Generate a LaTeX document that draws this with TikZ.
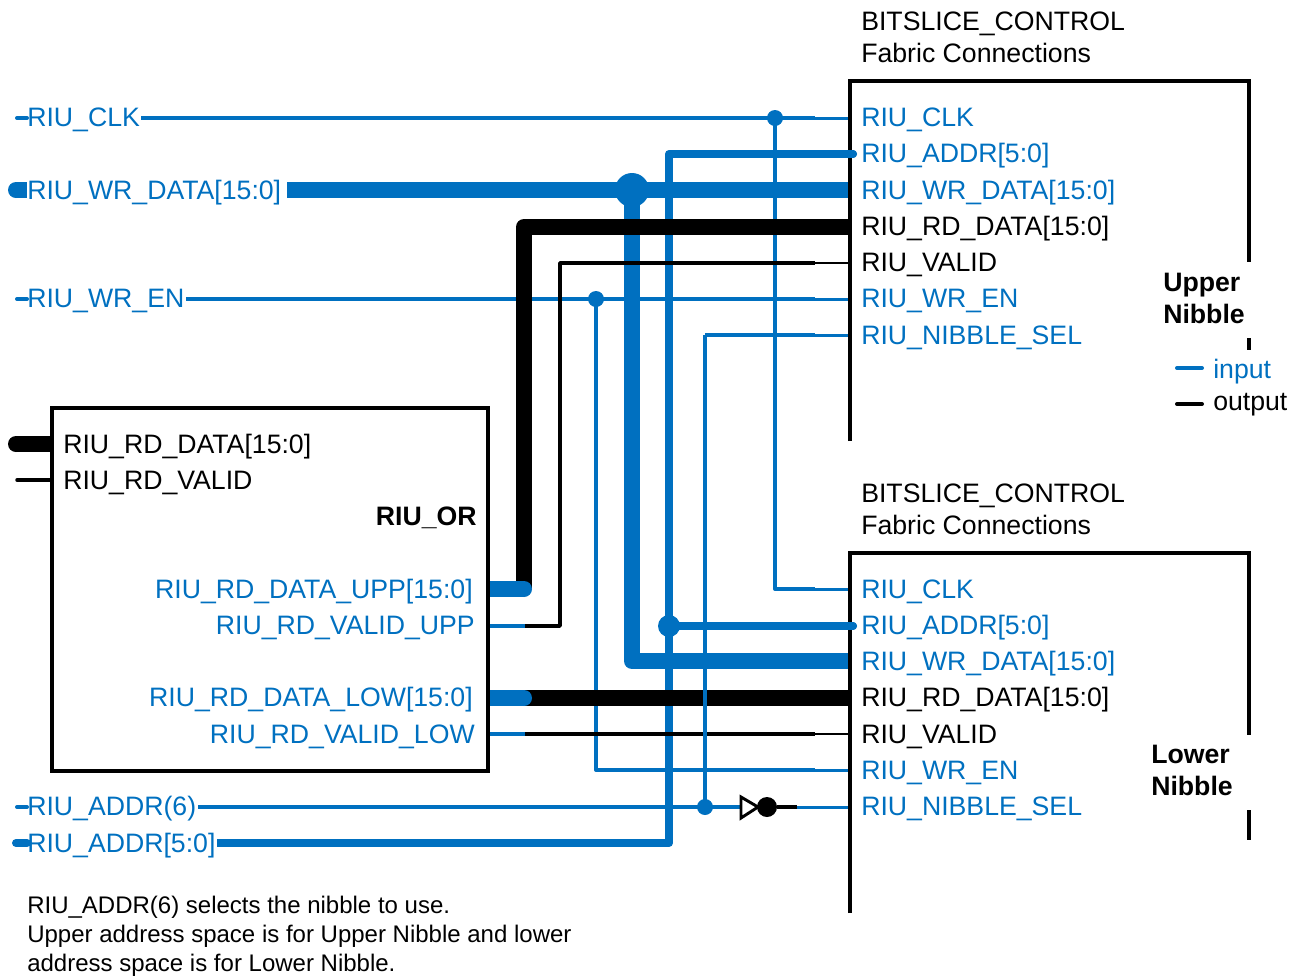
\documentclass[tikz,border=0pt]{standalone}
\usepackage{fontspec}
\setmainfont{Liberation Sans}
\definecolor{xblue}{RGB}{0,112,192}
\tikzset{
  wire/.style={line join=round,line width=3pt,draw=xblue},
  tail/.style={line width=2.25pt,draw=xblue},
  addrw/.style={line join=round,line width=6pt,draw=xblue},
  busb/.style={line join=round,line width=12pt,draw=xblue},
  busk/.style={line join=round,line width=12pt,draw=black},
  wirek/.style={line join=round,line width=2.6pt,draw=black},
  tailk/.style={line width=2pt,draw=black},
  frame/.style={line width=2.3pt,draw=black},
  lab/.style={inner sep=0pt,font=\fontsize{20pt}{24pt}\selectfont},
  pb/.style={lab,anchor=base west,text=xblue},
  pk/.style={lab,anchor=base west,text=black},
  rb/.style={lab,anchor=base east,text=xblue},
  hd/.style={lab,anchor=base west},
  bd/.style={lab,anchor=base west,font=\fontsize{20pt}{24pt}\selectfont\bfseries},
  note/.style={inner sep=0pt,anchor=base west,font=\fontsize{18pt}{22pt}\selectfont},
  dotb/.style={circle,fill=xblue,inner sep=0pt,minimum size=12pt},
}
\begin{document}
\begin{tikzpicture}[x=0.75pt,y=-0.75pt]
\useasboundingbox (0,0) rectangle (1297,976);
% rails
\coordinate (a1) at (850,118); \coordinate (a2) at (853,154); \coordinate (a3) at (850,190);
\coordinate (a4) at (850,227); \coordinate (a5) at (850,263); \coordinate (a6) at (850,299);
\coordinate (a7) at (850,335);
\coordinate (b1) at (850,589); \coordinate (b2) at (853,626); \coordinate (b3) at (850,661);
\coordinate (b4) at (850,698); \coordinate (b5) at (850,734); \coordinate (b6) at (850,770);
\coordinate (b7) at (850,807);
% labels
\node[pb] (iclk) at (27,126) {RIU\_CLK};
\node[pb] (iwd) at (27,199) {RIU\_WR\_DATA[15:0]};
\node[pb] (iwe) at (27,307) {RIU\_WR\_EN};
\node[pb] (ia6) at (27,815) {RIU\_ADDR(6)};
\node[pb] (ia5) at (27,852) {RIU\_ADDR[5:0]};
\node[pb] (u1) at (861,126) {RIU\_CLK};
\node[pb] (u2) at (861,162) {RIU\_ADDR[5:0]};
\node[pb] (u3) at (861,199) {RIU\_WR\_DATA[15:0]};
\node[pk] (u4) at (861,235) {RIU\_RD\_DATA[15:0]};
\node[pk] (u5) at (861,271) {RIU\_VALID};
\node[pb] (u6) at (861,307) {RIU\_WR\_EN};
\node[pb] (u7) at (861,344) {RIU\_NIBBLE\_SEL};
\node[pb] (l1) at (861,598) {RIU\_CLK};
\node[pb] (l2) at (861,634) {RIU\_ADDR[5:0]};
\node[pb] (l3) at (861,670) {RIU\_WR\_DATA[15:0]};
\node[pk] (l4) at (861,706) {RIU\_RD\_DATA[15:0]};
\node[pk] (l5) at (861,743) {RIU\_VALID};
\node[pb] (l6) at (861,779) {RIU\_WR\_EN};
\node[pb] (l7) at (861,815) {RIU\_NIBBLE\_SEL};
\node[hd] (ut1) at (861,30) {BITSLICE\_CONTROL};
\node[hd] (ut2) at (861,62) {Fabric Connections};
\node[hd] (lt1) at (861,502) {BITSLICE\_CONTROL};
\node[hd] (lt2) at (861,534) {Fabric Connections};
\node[bd] (un1) at (1163,291) {Upper};
\node[bd] (un2) at (1163,323) {Nibble};
\node[bd] (ln1) at (1151,763) {Lower};
\node[bd] (ln2) at (1151,795) {Nibble};
\node[pb] (lgi) at (1213,378) {input};
\node[pk] (lgo) at (1213,410) {output};
\node[pk] (o1) at (63,453) {RIU\_RD\_DATA[15:0]};
\node[pk] (o2) at (63,489) {RIU\_RD\_VALID};
\node[lab,anchor=base east,font=\fontsize{20pt}{24pt}\selectfont\bfseries] (orn) at (477,525) {RIU\_OR};
\node[rb] (o3) at (473,598) {RIU\_RD\_DATA\_UPP[15:0]};
\node[rb] (o4) at (475,634) {RIU\_RD\_VALID\_UPP};
\node[rb] (o5) at (473,706) {RIU\_RD\_DATA\_LOW[15:0]};
\node[rb] (o6) at (475,743) {RIU\_RD\_VALID\_LOW};
\node[note] (n1) at (27,913) {RIU\_ADDR(6) selects the nibble to use.};
\node[note] (n2) at (27,942) {Upper address space is for Upper Nibble and lower};
\node[note] (n3) at (27,971) {address space is for Lower Nibble.};
% junctions
\coordinate (jclk) at (775,118);
\coordinate (jwe) at (596,299);
\coordinate (jwd) at (632,190);
\coordinate (ja5) at (669,626);
\coordinate (jsel) at (705,807);
% blue wires under the black ones
\draw[busb] (287,190) -- (a3);
\draw[busb] (jwd) -- (jwd |- b3) -- (b3);
\draw[addrw] (217,843) -- (669,843) -- (669,154) -- (815,154);
\draw[addrw,line cap=round] (800,154) -- (a2);
\draw[addrw] (ja5) -- (815,626);
\draw[addrw,line cap=round] (800,626) -- (b2);
\draw[wire] (141,118) -- (815,118);
\draw[tail] (815,118) -- (a1);
\draw[wire] (jclk) -- (jclk |- b1) -- (815,589);
\draw[tail] (815,589) -- (b1);
\draw[wire] (186,299) -- (815,299);
\draw[tail] (815,299) -- (a6);
\draw[wire] (jwe) -- (jwe |- b6) -- (815,770);
\draw[tail] (815,770) -- (b6);
\draw[wire] (198,807) -- (745,807);
\draw[tail] (797,807) -- (b7);
\draw[wire] (705,335) -- (815,335);
\draw[tail] (815,335) -- (a7);
% left stubs
\draw[wire,line cap=round] (17,118) -- (iclk.west |- a1);
\draw[wire,line cap=round] (17,299) -- (iwe.west |- a6);
\draw[wire,line cap=round] (17,807) -- (ia6.west |- b7);
\draw[busb] (16,190) -- (iwd.west |- a3);
\fill[xblue] (16,190) circle[radius=8];
\draw[addrw,line cap=round] (16,843) -- (ia5.west |- 0,843);
% black wires
\draw[busk] (524,589) -- (524,227) -- (a4);
\draw[busk] (524,698) -- (b4);
\draw[wirek] (525,626) -- (560,626) -- (560,263) -- (815,263);
\draw[tailk] (815,263) -- (a5);
\draw[wirek] (525,734) -- (815,734);
\draw[tailk] (815,734) -- (b5);
% select wire over the black lines
\draw[wire] (705,335) -- (jsel);
% junction dots
\node[dotb] (djclk) at (jclk) {};
\node[dotb] (djwe) at (jwe) {};
\node[dotb] (djsel) at (jsel) {};
\node[dotb,minimum size=25.5pt] (djwd) at (jwd) {};
\node[dotb,minimum size=16.5pt] (dja5) at (ja5) {};
% RIU_OR outputs
\draw[busb] (489,589) -- (524,589);
\fill[xblue] (524,589) circle[radius=8];
\draw[busb] (489,698) -- (524,698);
\fill[xblue] (524,698) circle[radius=8];
\draw[wire] (489,626) -- (525,626);
\draw[wire] (489,734) -- (525,734);
% RIU_OR box
\draw[busk] (52,444) -- (16,444);
\fill (16,444) circle[radius=8];
\draw[wirek,line cap=round] (17,480) -- (52,480);
\draw[frame] (52,408) rectangle (488,771);
% inverter
\node[circle,fill=black,inner sep=0pt,minimum size=15pt] (bub) at (767,807) {};
\draw[line width=2.2pt,fill=white,line join=miter] (741,797) -- (758,807) -- (741,818) -- cycle;
\draw[line width=2.6pt] (bub.east) -- (797,807);
% block frames
\draw[frame] (850,441) -- (850,81) -- (1249,81) -- (1249,262);
\draw[frame] (1249,338) -- (1249,350);
\draw[frame] (850,913) -- (850,553) -- (1249,553) -- (1249,735);
\draw[frame] (1249,810) -- (1249,840);
\draw[addrw,line cap=round] (845,154) -- (a2);
\draw[addrw,line cap=round] (845,626) -- (b2);
% legend
\draw[wire,line cap=round] (1177,368) -- (1202,368);
\draw[wirek,line width=3pt,line cap=round] (1177,404) -- (1202,404);
\end{tikzpicture}
\end{document}
